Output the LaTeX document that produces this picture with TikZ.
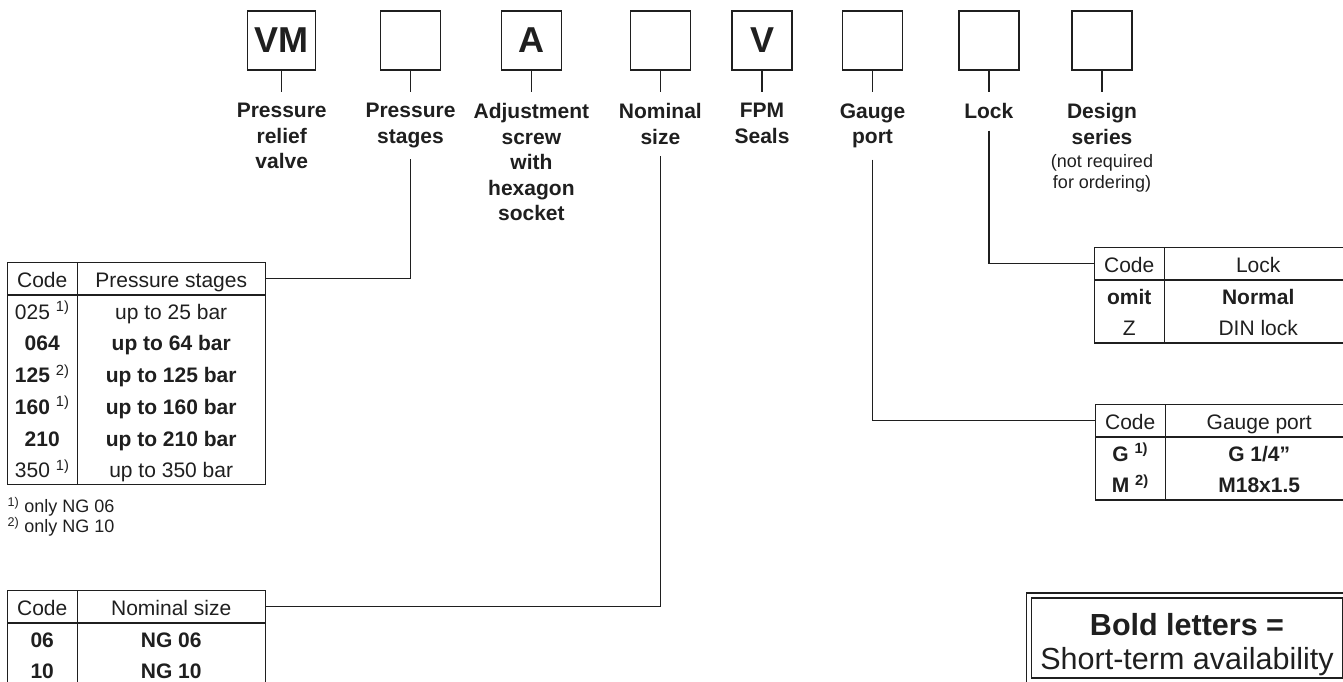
\documentclass[tikz,border=0pt]{standalone}
\usepackage{fontspec}
\setmainfont{Liberation Sans}
\usetikzlibrary{positioning, matrix}

\newcommand{\fnote}[1]{\textsuperscript{#1)}}
% header rule and column rule of a code table
\newcommand{\tabrules}[2]{%
  \draw (#1-1-1.south west) -- (#1-1-2.south east);
  \draw (#1-1-1.north east) -- (#1-#2-1.south east);}

\tikzset{
  codebox/.style={draw, minimum width=60pt, minimum height=59pt, inner sep=0pt,
    font=\fontsize{36}{40}\selectfont\bfseries},
  lbl/.style={align=center, inner xsep=0pt, inner ysep=11pt,
    font=\fontsize{21}{25.5}\selectfont\bfseries},
  note/.style={align=left, inner sep=0pt, font=\fontsize{18}{20}\selectfont},
  codetab/.style={matrix of nodes, draw, inner sep=0pt, row sep=0pt, column sep=0pt,
    nodes={inner sep=0pt, minimum height=31.7pt, text height=18pt, text depth=0pt},
    column 1/.style={nodes={minimum width=69pt}},
    column 2/.style={nodes={minimum width=189pt}}},
  legend/.style={draw, double, double distance=3.8pt, line width=1.2pt,
    minimum width=315.5pt, minimum height=85pt, inner sep=0pt, align=center,
    font=\fontsize{30.5}{34}\selectfont}
}

\begin{document}
\begin{tikzpicture}[x=1pt, y=-1pt, line width=1.4pt, color=black!88,
    font=\fontsize{21}{25.5}\selectfont]
  \useasboundingbox (0,0) rectangle (1343,682);

  % Code boxes
  \node[codebox, minimum width=68pt] (vm) at (281.7,40.5) {VM};
  \node[codebox] (ps) at (410.5,40.5) {};
  \node[codebox] (adj) at (531.4,40.5) {A};
  \node[codebox] (ns) at (660.4,40.5) {};
  \node[codebox] (fpm) at (762,40.5) {V};
  \node[codebox] (gp) at (872.5,40.5) {};
  \node[codebox] (lk) at (988.8,40.5) {};
  \node[codebox] (ds) at (1102,40.5) {};

  % Labels
  \node[lbl, below=21pt of vm] (lvm) {Pressure\\relief\\valve};
  \node[lbl, below=21pt of ps] (lps) {Pressure\\stages};
  \node[lbl, below=21pt of adj] (ladj) {Adjustment\\screw\\with\\hexagon\\socket};
  \node[lbl, below=21pt of ns] (lns) {Nominal\\size};
  \node[lbl, below=21pt of fpm] (lfpm) {FPM\\Seals};
  \node[lbl, below=21pt of gp] (lgp) {Gauge\\port};
  \node[lbl, below=21pt of lk] (llk) {Lock};
  \node[lbl, below=21pt of ds] (lds) {Design\\series\\[-2.5pt]%
    {\mdseries\fontsize{18}{21}\selectfont (not required}\\[-4.5pt]%
    {\mdseries\fontsize{18}{21}\selectfont for ordering)}};

  % Tables
  \matrix[codetab, anchor=north west] (pstab) at (7,262) {
    Code & Pressure stages \\
    025 \fnote{1} & up to 25 bar \\
    \textbf{064} & \textbf{up to 64 bar} \\
    \textbf{125} \fnote{2} & \textbf{up to 125 bar} \\
    \textbf{160} \fnote{1} & \textbf{up to 160 bar} \\
    \textbf{210} & \textbf{up to 210 bar} \\
    350 \fnote{1} & up to 350 bar \\
  };
  \tabrules{pstab}{7}
  \node[note, below right=11pt and 0pt of pstab.south west] (fn)
    {\fnote{1} only NG 06\\\fnote{2} only NG 10};

  \matrix[codetab, anchor=north west] (nstab) at (7,590) {
    Code & Nominal size \\
    \textbf{06} & \textbf{NG 06} \\
    \textbf{10} & \textbf{NG 10} \\
  };
  \tabrules{nstab}{3}

  \matrix[codetab, anchor=north west] (lktab) at (1094,247) {
    Code & Lock \\
    \textbf{omit} & \textbf{Normal} \\
    Z & DIN lock \\
  };
  \tabrules{lktab}{3}

  \matrix[codetab, anchor=north west] (gptab) at (1095,404) {
    Code & Gauge port \\
    \textbf{G \fnote{1}} & \textbf{G 1/4”} \\
    \textbf{M \fnote{2}} & \textbf{M18x1.5} \\
  };
  \tabrules{gptab}{3}

  \node[legend] (avail) at (1187,638)
    {\rule{0pt}{36pt}\textbf{Bold letters =}\\Short-term availability};

  % Connectors
  \foreach \b in {vm,ps,adj,ns,fpm,gp,lk,ds}
    \draw (\b.south) -- (l\b.north);
  \draw (lps.south) |- (pstab-1-2.east);
  \draw (lns.south) |- (nstab-1-2.east);
  \draw (lgp.south) |- (gptab-1-1.west);
  \draw (llk.south) |- (lktab-1-1.west);
\end{tikzpicture}
\end{document}
